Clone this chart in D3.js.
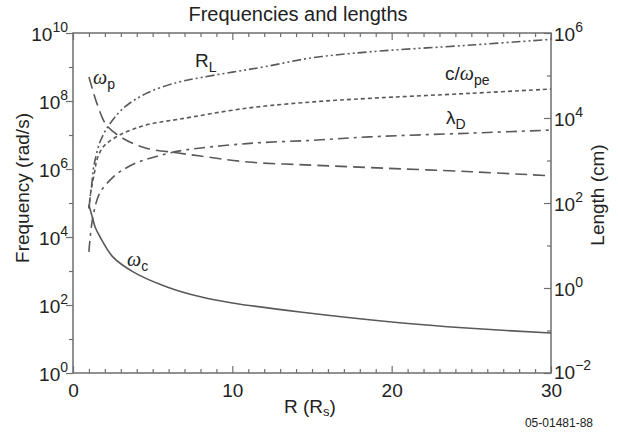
<!DOCTYPE html>
<html lang="en">
<head>
<meta charset="UTF-8">
<title>Frequencies and lengths</title>
<script src="https://cdn.jsdelivr.net/npm/d3@7/dist/d3.min.js"></script>
<style>
    body { margin: 0; background: #fff; }
    svg text { font-family: "Liberation Sans", Arial, sans-serif; fill: #222; }
    .frame { fill: none; stroke: #6e6e6e; stroke-width: 1.5; }
    .axis path { display: none; }
    .axis line { stroke: #6e6e6e; stroke-width: 1.2; }
    .curve { fill: none; stroke: #595959; stroke-width: 1.6; }
    .greek { font-family: "Liberation Serif", serif; font-style: italic; }
</style>
</head>
<body>
<div class="chart"></div>
<script>
// R in solar radii, frequencies in rad/s, lengths in cm
var omegaC   = [[1.0, 8.7e4], [1.2, 4.0e4], [1.4, 1.9e4], [1.7, 1.0e4], [2.5, 2.6e3], [3.8, 930],
                [5.9, 340], [8, 174], [10, 115], [14.25, 62], [20.5, 30], [24.7, 21], [30, 15]];
var omegaP   = [[1.0, 5.1e8], [1.25, 2.0e8], [1.5, 8.5e7], [2.1, 1.95e7], [3.15, 7.9e6], [4.6, 4.1e6],
                [6.5, 3.0e6], [8, 2.4e6], [11, 1.6e6], [15, 1.3e6], [18.6, 1.1e6], [25, 8.3e5], [30, 6.3e5]];
var larmor   = [[1.0, 75], [1.1, 160], [1.17, 260], [1.27, 600], [1.38, 1.0e3], [1.7, 2.75e3], [2.2, 6.3e3],
                [3.16, 1.7e4], [4.6, 3.8e4], [6.5, 6.8e4], [8, 8.9e4], [10, 1.2e5], [12, 1.6e5],
                [15, 2.6e5], [18.6, 3.6e5], [25, 5.2e5], [30, 7.1e5]];
var skinDepth = [[1.0, 75], [1.11, 174], [1.38, 600], [1.49, 1.0e3], [1.9, 2.1e3], [2.95, 4.0e3],
                [4.63, 6.9e3], [6.6, 9.3e3], [10.9, 1.7e4], [15.1, 2.4e4], [18.6, 2.9e4], [24.9, 3.8e4], [30, 4.8e4]];
var debye    = [[1.0, 7.1], [1.24, 45], [1.69, 174], [2.5, 400], [3.0, 560], [4.0, 890], [5.0, 1.17e3],
                [6.6, 1.66e3], [10.9, 2.5e3], [15.1, 3.0e3], [18.6, 3.6e3], [24.9, 4.4e3], [30, 5.2e3]];

var xTicks     = d3.range(0, 31);
var xLabels    = [0, 10, 20, 30];
var freqPowers = d3.range(0, 11);
var lenPowers  = d3.range(-2, 7);

var width = 618, height = 433;
var margin = { top: 33, right: 67, bottom: 60, left: 73 };
var plotW = width - margin.left - margin.right,
    plotH = height - margin.top - margin.bottom;

var x = d3.scaleLinear().domain([0, 30]).range([margin.left, margin.left + plotW]);
var yFreq = d3.scaleLog().domain([1, 1e10]).range([margin.top + plotH, margin.top]);
var yLen  = d3.scaleLog().domain([1e-2, 1e6]).range([margin.top + plotH, margin.top]);

var svg = d3.select(".chart").append("svg")
    .attr("width", width)
    .attr("height", height);

function supLabel(sel, p, anchor)
{
    var t = sel.append("text")
        .attr("text-anchor", anchor)
        .attr("font-size", 19);
    t.append("tspan").text("10");
    t.append("tspan")
        .attr("font-size", 14)
        .attr("dy", -9)
        .text(String(p).replace("-", "\u2212"));
    return t;
}

function isMajorX(d) { return d % 10 === 0; }

// bottom axis, ticks inside
var axBottom = svg.append("g").attr("class", "axis")
    .attr("transform", "translate(0," + (margin.top + plotH) + ")")
    .call(d3.axisBottom(x).tickValues(xTicks).tickSizeOuter(0).tickFormat(""));
axBottom.selectAll(".tick line").attr("y2", function(d) { return isMajorX(d) ? -7 : -4; });
axBottom.selectAll(".tick").filter(function(d) { return xLabels.indexOf(d) >= 0; })
    .append("text")
    .attr("y", 24)
    .attr("text-anchor", "middle")
    .attr("font-size", 19)
    .text(function(d) { return d; });

// top axis, ticks inside
var axTop = svg.append("g").attr("class", "axis")
    .attr("transform", "translate(0," + margin.top + ")")
    .call(d3.axisTop(x).tickValues(xTicks).tickSizeOuter(0).tickFormat(""));
axTop.selectAll(".tick line").attr("y2", function(d) { return isMajorX(d) ? 7 : 4; });

// left axis (frequency), ticks outside
var axLeft = svg.append("g").attr("class", "axis")
    .attr("transform", "translate(" + margin.left + ",0)")
    .call(d3.axisLeft(yFreq).tickValues(freqPowers.map(function(p) { return Math.pow(10, p); }))
        .tickSizeOuter(0).tickFormat(""));
axLeft.selectAll(".tick line").attr("x2", function(d, i) { return freqPowers[i] % 2 === 0 ? -7 : -4; });
axLeft.selectAll(".tick").each(function(d, i) {
    var p = freqPowers[i];
    if (p % 2 !== 0) return;
    supLabel(d3.select(this), p, "end").attr("x", -5).attr("y", 7);
});

// right axis (length), ticks inside
var axRight = svg.append("g").attr("class", "axis")
    .attr("transform", "translate(" + (margin.left + plotW) + ",0)")
    .call(d3.axisRight(yLen).tickValues(lenPowers.map(function(p) { return Math.pow(10, p); }))
        .tickSizeOuter(0).tickFormat(""));
axRight.selectAll(".tick line").attr("x2", function(d, i) { return lenPowers[i] % 2 === 0 ? -7 : -4; });
axRight.selectAll(".tick").each(function(d, i) {
    var p = lenPowers[i];
    if (p % 2 !== 0) return;
    supLabel(d3.select(this), p, "start").attr("x", 3).attr("y", p === -2 ? 5 : 7);
});

svg.append("rect").attr("class", "frame")
    .attr("x", margin.left).attr("y", margin.top)
    .attr("width", plotW).attr("height", plotH);

// curves
var series = [
    { data: omegaC,    y: yFreq, dash: null },
    { data: omegaP,    y: yFreq, dash: "12,6" },
    { data: larmor,    y: yLen,  dash: "9,3,2,3,2,3" },
    { data: skinDepth, y: yLen,  dash: "4,3" },
    { data: debye,     y: yLen,  dash: "11,5,3,5" }
];

series.forEach(function(s) {
    var line = d3.line()
        .x(function(d) { return x(d[0]); })
        .y(function(d) { return s.y(d[1]); })
        .curve(d3.curveCatmullRom.alpha(0.5));
    svg.append("path")
        .datum(s.data)
        .attr("class", "curve")
        .attr("stroke-dasharray", s.dash)
        .attr("d", line);
});

// curve labels: list of [text, kind] pieces
function curveLabel(px, py, parts)
{
    var t = svg.append("text").attr("x", px).attr("y", py).attr("font-size", 19);
    var shift = 0;
    parts.forEach(function(p) {
        var ts = t.append("tspan").text(p[0]);
        if (p[1] === "greek") ts.attr("class", "greek").attr("font-size", 20);
        if (p[1] === "sub") {
            ts.attr("font-size", 14).attr("dy", 5 - shift);
            shift = 5;
        } else if (shift) {
            ts.attr("dy", -shift);
            shift = 0;
        }
    });
    return t;
}

curveLabel(93, 84,  [["\u03C9", "greek"], ["p", "sub"]]);
curveLabel(195, 67, [["R", "sans"], ["L", "sub"]]);
curveLabel(445, 80, [["c/", "sans"], ["\u03C9", "greek"], ["pe", "sub"]]);
curveLabel(446, 124, [["\u03BB", "sans"], ["D", "sub"]]);
curveLabel(127, 266, [["\u03C9", "greek"], ["c", "sub"]]);

// titles
svg.append("text")
    .attr("x", 298).attr("y", 21)
    .attr("text-anchor", "middle")
    .attr("font-size", 20)
    .text("Frequencies and lengths");

svg.append("text")
    .attr("transform", "translate(29,188) rotate(-90)")
    .attr("text-anchor", "middle")
    .attr("font-size", 19)
    .text("Frequency (rad/s)");

svg.append("text")
    .attr("transform", "translate(604,195) rotate(-90)")
    .attr("text-anchor", "middle")
    .attr("font-size", 19)
    .text("Length (cm)");

var xl = svg.append("text")
    .attr("x", 310).attr("y", 413)
    .attr("text-anchor", "middle")
    .attr("font-size", 19);
xl.append("tspan").text("R (R");
xl.append("tspan").attr("font-size", 13).attr("dy", 3).text("s");
xl.append("tspan").attr("dy", -3).text(")");

svg.append("text")
    .attr("x", 593).attr("y", 427)
    .attr("text-anchor", "end")
    .attr("font-size", 12)
    .text("05-01481-88");
</script>
</body>
</html>
